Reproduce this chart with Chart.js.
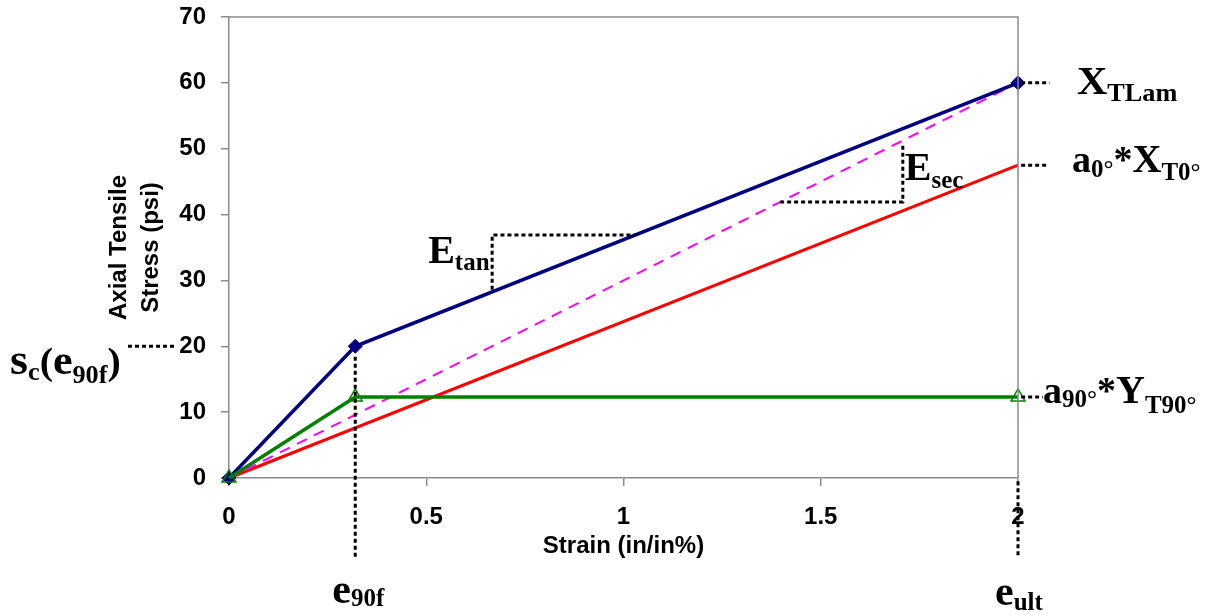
<!DOCTYPE html>
<html>
<head>
<meta charset="utf-8">
<script src="https://cdn.jsdelivr.net/npm/chart.js@4.4.1/dist/chart.umd.min.js"></script>
<style>
html, body { margin: 0; padding: 0; background: #fff; }
#wrap { width: 1214px; height: 615px; }
</style>
</head>
<body>
<div id="wrap"><canvas id="myChart"></canvas></div>
<script>
// laminate response (strain in/in%, stress psi)
var strainLam = [0, 0.32, 2];
var stressLam = [0, 20, 60];
// 90 deg ply contribution
var strain90 = [0, 0.32, 2];
var stress90 = [0, 12.3, 12.3];
// 0 deg ply contribution
var strain0 = [0, 2];
var stress0 = [0, 47.5];
// secant line
var strainSec = [0, 2];
var stressSec = [0, 60];

var xTicks = [0, 0.5, 1, 1.5, 2];
var yTicks = [0, 10, 20, 30, 40, 50, 60, 70];

// dotted guide lines, [strain, stress] pairs
var guides = [
	[[-0.256, 20], [-0.137, 20]],
	[[0.32, 18.4], [0.32, -12.1]],
	[[2, -0.5], [2, -12.1]],
	[[2.008, 60], [2.08, 60]],
	[[2.008, 47.5], [2.076, 47.5]],
	[[2.008, 12.3], [2.063, 12.3]],
	[[0.667, 28.6], [0.667, 36.9], [1.029, 36.9]],
	[[1.397, 41.9], [1.708, 41.9], [1.708, 50.6]]
];

function pts(xs, ys) {
	return xs.map(function(x, i){ return {x: x, y: ys[i]}; });
}

var datasets = [];

guides.forEach(function(g){
	datasets.push({
		data: g.map(function(p){ return {x: p[0], y: p[1]}; }),
		borderColor: '#000',
		borderWidth: 3,
		borderDash: [4, 3],
		pointRadius: 0,
		clip: false,
		order: 0
	});
});

datasets.push({
	data: pts(strain90, stress90),
	borderColor: '#008000',
	borderWidth: 3.5,
	pointStyle: 'triangle',
	pointRadius: 8,
	pointBorderWidth: 1.5,
	pointBorderColor: '#008000',
	pointBackgroundColor: 'rgba(255,255,255,0)',
	clip: false,
	order: 1
});
datasets.push({
	data: pts(strainLam, stressLam),
	borderColor: '#000080',
	borderWidth: 3.5,
	pointStyle: 'rectRot',
	pointRadius: 7,
	pointBorderWidth: 1,
	pointBorderColor: '#000080',
	pointBackgroundColor: '#000080',
	clip: false,
	order: 2
});
datasets.push({
	data: pts(strainSec, stressSec),
	borderColor: '#ff00ff',
	borderWidth: 2,
	borderDash: [11, 8],
	pointRadius: 0,
	clip: false,
	order: 3
});
datasets.push({
	data: pts(strain0, stress0),
	borderColor: '#ff0000',
	borderWidth: 3,
	pointRadius: 0,
	clip: false,
	order: 4
});

// labels: [text, size, baseline shift]
function drawParts(ctx, x, y, parts, sx) {
	ctx.save();
	ctx.translate(x, y);
	ctx.scale(sx || 1, 1);
	var cx = 0;
	parts.forEach(function(p){
		ctx.font = 'bold ' + p[1] + 'px "Liberation Serif", "Times New Roman", serif';
		ctx.fillText(p[0], cx, p[2] || 0);
		cx += ctx.measureText(p[0]).width;
	});
	ctx.restore();
}

var framePlugin = {
	id: 'frame',
	afterDraw: function(chart){
		var ctx = chart.ctx, a = chart.chartArea;
		var xs = chart.scales.x, ys = chart.scales.y;
		ctx.save();
		ctx.strokeStyle = '#8c8c8c';
		ctx.lineWidth = 1.5;
		ctx.beginPath();
		ctx.moveTo(a.left, a.top);
		ctx.lineTo(a.right, a.top);
		ctx.lineTo(a.right, a.bottom);
		ctx.stroke();

		ctx.fillStyle = '#000';
		ctx.textAlign = 'left';
		ctx.textBaseline = 'alphabetic';
		var B = 38, S = 25;
		drawParts(ctx, 10, ys.getPixelForValue(20) + 28, [['s', 44], ['c', S, 6], ['(', B], ['e', 42], ['90f', S, 9], [')', B]], 1.05);
		drawParts(ctx, xs.getPixelForValue(2) + 59, ys.getPixelForValue(60) + 11, [['X', 40], ['TLam', S, 7]], 1.05);
		drawParts(ctx, xs.getPixelForValue(2) + 54, ys.getPixelForValue(47.5) + 7, [['a', B], ['0°', S, 5], ['*', B], ['X', 40], ['T0°', S, 8]]);
		drawParts(ctx, xs.getPixelForValue(2) + 25, ys.getPixelForValue(12.3) + 6, [['a', B], ['90°', S, 4], ['*', B], ['Y', 40], ['T90°', S, 10]]);
		drawParts(ctx, xs.getPixelForValue(0.32) - 23, ys.getPixelForValue(0) + 125, [['e', 42], ['90f', S, 3]]);
		drawParts(ctx, xs.getPixelForValue(2) - 23, ys.getPixelForValue(0) + 127, [['e', 42], ['ult', S, 5]]);
		drawParts(ctx, xs.getPixelForValue(0.667) - 64, ys.getPixelForValue(36.9) + 28, [['E', 40], ['tan', S, 7]]);
		drawParts(ctx, xs.getPixelForValue(1.708) + 2, ys.getPixelForValue(50.6) + 35, [['E', 40], ['sec', S, 8]]);
		ctx.restore();
	}
};

var tickFont = { family: '"Liberation Sans", Arial, sans-serif', size: 24, weight: 'bold' };

var ctx = document.getElementById('myChart').getContext('2d');
var chart = new Chart(ctx, {
	type: 'line',
	data: { datasets: datasets },
	plugins: [framePlugin],
	options: {
		responsive: true,
		maintainAspectRatio: false,
		animation: false,
		events: [],
		layout: { padding: { left: 103, right: 196, top: 17, bottom: 54 } },
		plugins: { legend: { display: false }, tooltip: { enabled: false } },
		elements: { line: { tension: 0, fill: false } },
		scales: {
			x: {
				type: 'linear',
				min: xTicks[0],
				max: xTicks[xTicks.length - 1],
				afterBuildTicks: function(scale){
					scale.ticks = xTicks.map(function(v){ return {value: v}; });
				},
				afterFit: function(scale){
					scale.height = 83;
					scale.paddingLeft = 0;
					scale.paddingRight = 0;
				},
				border: { color: '#8c8c8c', width: 1.5 },
				grid: { drawOnChartArea: false, tickLength: 8, color: '#8c8c8c', lineWidth: 1.5 },
				ticks: {
					padding: 17,
					maxRotation: 0,
					color: '#000',
					font: tickFont,
					callback: function(v){ return String(v); }
				},
				title: {
					display: true,
					text: 'Strain (in/in%)',
					color: '#000',
					padding: 0,
					font: tickFont
				}
			},
			y: {
				min: yTicks[0],
				max: yTicks[yTicks.length - 1],
				afterBuildTicks: function(scale){
					scale.ticks = yTicks.map(function(v){ return {value: v}; });
				},
				afterFit: function(scale){
					scale.width = 126;
					scale.paddingTop = 0;
					scale.paddingBottom = 0;
				},
				border: { color: '#8c8c8c', width: 1.5 },
				grid: { drawOnChartArea: false, tickLength: 8, color: '#8c8c8c', lineWidth: 1.5 },
				ticks: {
					padding: 15,
					color: '#000',
					font: tickFont,
					callback: function(v){ return String(v); }
				},
				title: {
					display: true,
					text: ['Axial Tensile', 'Stress (psi)'],
					color: '#000',
					padding: 0,
					font: { family: '"Liberation Sans", Arial, sans-serif', size: 24, weight: 'bold', lineHeight: 1.33 }
				}
			}
		}
	}
});
</script>
</body>
</html>
